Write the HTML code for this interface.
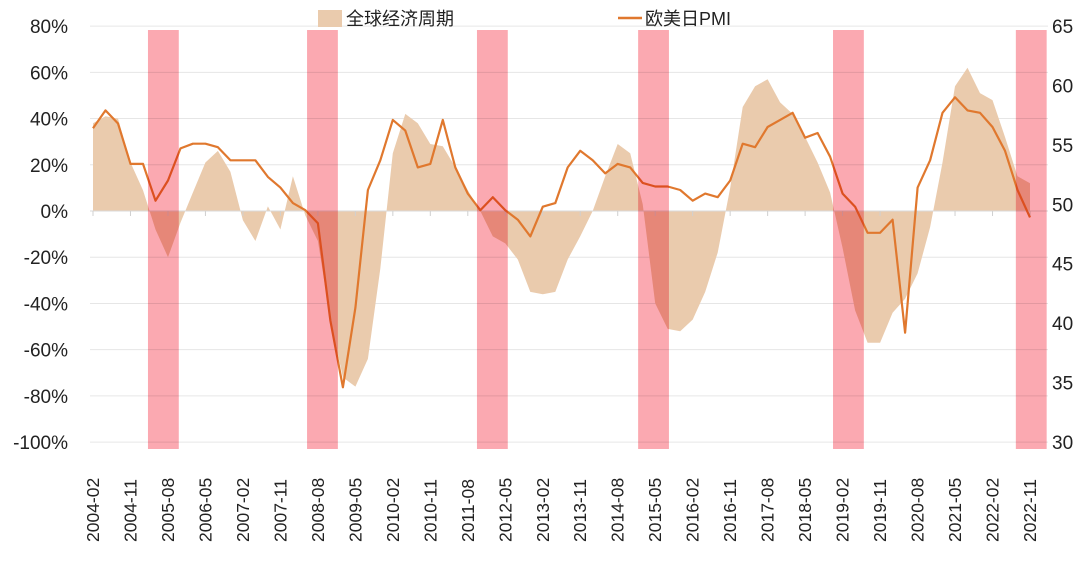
<!DOCTYPE html>
<html><head><meta charset="utf-8"><style>
body{margin:0;background:#fff;width:1080px;height:556px;overflow:hidden}
svg text{font-family:"Liberation Sans","Noto Sans CJK SC",sans-serif;fill:#222}
</style></head><body>
<svg id="c" width="1080" height="556"></svg>
<script>
const xLabels=["2004-02","2004-11","2005-08","2006-05","2007-02","2007-11","2008-08","2009-05","2010-02","2010-11","2011-08","2012-05","2013-02","2013-11","2014-08","2015-05","2016-02","2016-11","2017-08","2018-05","2019-02","2019-11","2020-08","2021-05","2022-02","2022-11"];
const leftTicks=[80,60,40,20,0,-20,-40,-60,-80,-100];
const rightTicks=[65,60,55,50,45,40,35,30];
// quarterly values starting 2004-02
const cycle=[38,41,40,21,9,-8,-20,-5,8,21,26,17,-4,-13,2,-8,15,-2,-13,-47,-72,-76,-64,-25,25,42,38,29,28,19,9,0,-11,-14,-21,-35,-36,-35,-21,-11,0,15,29,25,3,-40,-51,-52,-47,-35,-18,10,45,54,57,47,42,32,21,8,-16,-43,-57,-57,-44,-38,-27,-7,21,54,62,51,48,32,15,12];
const pmi=[56.4,57.9,56.8,53.4,53.4,50.3,52.0,54.7,55.1,55.1,54.8,53.7,53.7,53.7,52.3,51.4,50.1,49.5,48.4,40.2,34.6,41.3,51.2,53.7,57.1,56.2,53.1,53.4,57.1,53.1,50.9,49.5,50.6,49.5,48.7,47.3,49.8,50.1,53.1,54.5,53.7,52.6,53.4,53.1,51.8,51.5,51.5,51.2,50.3,50.9,50.6,52.0,55.1,54.8,56.5,57.1,57.7,55.6,56.0,54.0,50.9,49.8,47.6,47.6,48.7,39.2,51.4,53.7,57.7,59.0,57.9,57.7,56.5,54.5,51.2,48.9];
const bandStarts=[13.2,51.4,92.2,130.9,177.7,221.6]; // months since 2004-02
const bandLen=7.4;
const svg=document.getElementById('c');const NS='http://www.w3.org/2000/svg';
function mk(t,a,p){const e=document.createElementNS(NS,t);for(const k in a)e.setAttribute(k,a[k]);(p||svg).appendChild(e);return e;}
const xM=m=>93+m*937/225;
const yL=v=>211-v*2.3111;
const yR=p=>26+(65-p)*416/35;
leftTicks.forEach(v=>{const g=mk('line',{x1:90,x2:1048,y1:yL(v),y2:yL(v),stroke:'#e6e6e6','stroke-width':1});


const t=mk('text',{x:68,y:yL(v)+7,'text-anchor':'end','font-size':19});t.textContent=v+'%';

});
rightTicks.forEach(v=>{const t=mk('text',{x:1052,y:yR(v)+7,'font-size':19});t.textContent=v;

});
let d='M'+xM(0)+','+yL(0);cycle.forEach((v,i)=>{d+=' L'+xM(i*3).toFixed(1)+','+yL(v).toFixed(1);});d+=' L'+xM((cycle.length-1)*3)+','+yL(0)+' Z';
const ar=mk('path',{d:d,fill:'#EACBAD'});


mk('line',{x1:90,x2:1048,y1:yL(0),y2:yL(0),stroke:'#d9d9d9'});
xLabels.forEach((l,i)=>{const x=xM(i*9);mk('line',{x1:x,x2:x,y1:yL(0),y2:yL(0)+5,stroke:'#d0d0d0'});
const t=mk('text',{x:0,y:0,'font-size':17.5,transform:`translate(${x+6},542) rotate(-90)`});t.textContent=l;

});
const pl=mk('polyline',{points:pmi.map((p,i)=>xM(i*3).toFixed(1)+','+yR(p).toFixed(1)).join(' '),fill:'none',stroke:'#E0782E','stroke-width':2.2,'stroke-linejoin':'round'});


bandStarts.forEach(m=>{const r=mk('rect',{x:xM(m),y:30,width:xM(m+bandLen)-xM(m),height:419,fill:'#FBA9B1',style:'mix-blend-mode:multiply'});

});
const s1=mk('rect',{x:318,y:10,width:24,height:17,fill:'#EACBAD'});


const t1=mk('text',{x:346,y:25,'font-size':18});t1.textContent='全球经济周期';


const s2=mk('line',{x1:618,x2:642,y1:18,y2:18,stroke:'#E0782E','stroke-width':2.5});


const t2=mk('text',{x:645,y:25,'font-size':18});t2.textContent='欧美日PMI';


</script>
</body></html>
